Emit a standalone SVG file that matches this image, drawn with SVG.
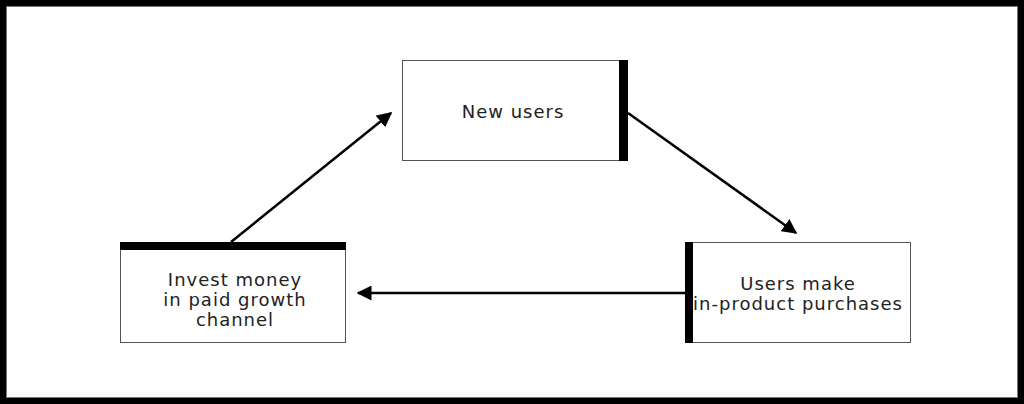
<svg xmlns="http://www.w3.org/2000/svg" width="1024" height="404" viewBox="0 0 1024 404">
<defs>
<style>
.box{fill:#fff;stroke:#555;stroke-width:1}
.bar{fill:#000}
.lbl{font-family:"DejaVu Sans","Liberation Sans",sans-serif;font-size:18px;letter-spacing:1px;fill:#222;text-anchor:middle}
.conn{stroke:#000;stroke-width:2.5;fill:none;marker-end:url(#ah)}
</style>
<marker id="ah" viewBox="0 0 10 10" refX="9" refY="5" markerWidth="6" markerHeight="6" orient="auto" markerUnits="strokeWidth">
<path d="M0,0 L10,5 L0,10 z" fill="#000"/>
</marker>
</defs>
<rect x="0" y="0" width="1024" height="404" fill="#000"/>
<rect x="6.5" y="6.5" width="1011" height="391" fill="#fff" stroke="#777" stroke-width="1"/>
<g id="connectors">
<line class="conn" x1="231" y1="242" x2="391" y2="113"/>
<line class="conn" x1="628" y1="113" x2="796" y2="233"/>
<line class="conn" x1="685" y1="293" x2="358" y2="293"/>
</g>
<g id="new-users">
<rect class="box" x="402.5" y="60.5" width="222" height="100"/>
<rect class="bar" x="619" y="60" width="9" height="101"/>
<text class="lbl" x="513" y="118">New users</text>
</g>
<g id="invest">
<rect class="box" x="120.5" y="242.5" width="225" height="100"/>
<rect class="bar" x="120" y="242" width="226" height="8"/>
<text class="lbl" x="235" y="286">Invest money</text>
<text class="lbl" x="235" y="306">in paid growth</text>
<text class="lbl" x="235" y="326">channel</text>
</g>
<g id="purchases">
<rect class="box" x="685.5" y="242.5" width="225" height="100"/>
<rect class="bar" x="685" y="242" width="8" height="101"/>
<text class="lbl" x="798" y="290">Users make</text>
<text class="lbl" x="798" y="310">in-product purchases</text>
</g>
</svg>
